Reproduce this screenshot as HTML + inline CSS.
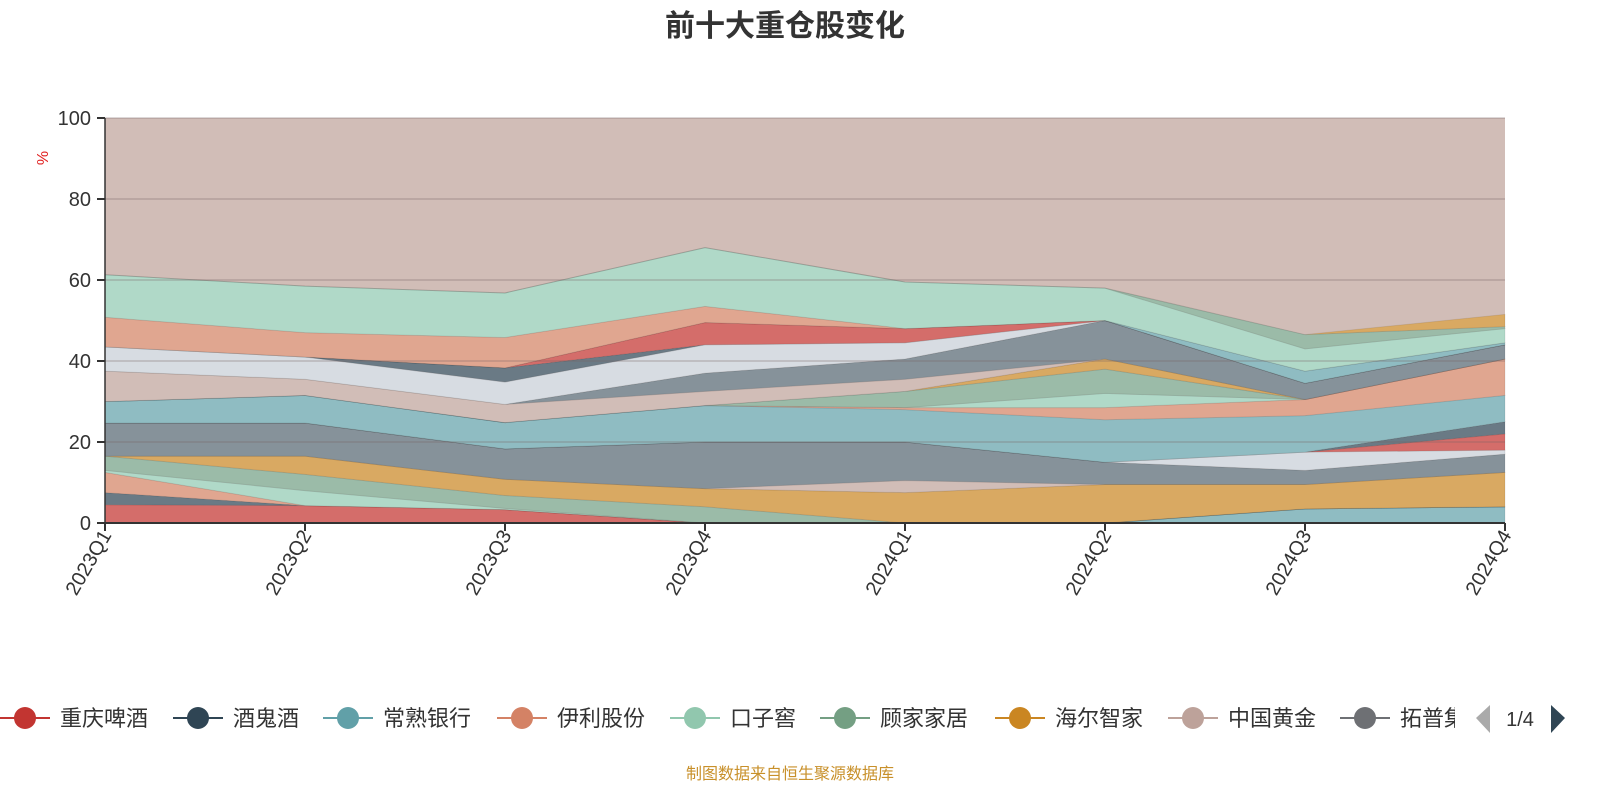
<!DOCTYPE html>
<html><head><meta charset="utf-8"><style>
body{margin:0;background:#fff;width:1600px;height:800px;overflow:hidden;font-family:"Liberation Sans","Noto Sans CJK SC",sans-serif}
</style></head><body>
<svg id="chart" width="1600" height="800" xmlns="http://www.w3.org/2000/svg" font-family="Liberation Sans, Noto Sans CJK SC, sans-serif">
<text x="785" y="36" text-anchor="middle" font-size="30" font-weight="bold" fill="#333">前十大重仓股变化</text>
<g id="plot"></g>
<g id="axes"></g>
<g id="legend"></g>
<text x="790" y="779" text-anchor="middle" font-size="16" fill="#c8902a">制图数据来自恒生聚源数据库</text>
</svg>
<script>
const categories=["2023Q1","2023Q2","2023Q3","2023Q4","2024Q1","2024Q2","2024Q3","2024Q4"];
const yTicks=[0,20,40,60,80,100];
const layerColors=["#8fbcc2","#d46d6a","#6a7a85","#e0a690","#b0d9c8","#9bbba8","#d9a962","#d1bdb7","#86929a","#d7dce2","#d46d6a","#6a7a85","#8fbcc2","#e0a690","#b0d9c8","#9bbba8","#d9a962","#d1bdb7","#86929a","#d7dce2","#6a7a85","#d46d6a","#8fbcc2","#e0a690","#b0d9c8","#9bbba8","#d9a962"];
const s1=[0,0,0,0,0,0,3.5,4];
const s2=[4.5,4.3,3.3,0,0,0,0,0];
const s3=[3,0,0,0,0,0,0,0];
const s4=[5,0,0,0,0,0,0,0];
const s5=[0.5,3.7,0.3,0,0,0,0,0];
const s6=[3.5,4,3.2,4,0,0,0,0];
const s7=[0,4.5,4,4.5,7.5,9.5,6,8.5];
const s8=[0,0,0,0,3,0,0,0];
const s9=[8.2,8.2,7.5,11.5,9.5,5.5,3.5,4.5];
const s10=[0,0,0,0,0,0,4.5,1];
const s11=[0,0,0,0,0,0,0,4];
const s12=[0,0,0,0,0,0,0,3];
const s13=[5.3,6.8,6.5,9,8,10.5,9,6.5];
const s14=[0,0,0,0,0.5,3,4,9];
const s15=[0,0,0,0,0,3.5,0,0];
const s16=[0,0,0,0,4,6,0,0];
const s17=[0,0,0,0,0,2.5,0,0];
const s18=[7.5,4,4.5,3.5,3,0,0,0];
const s19=[0,0,0,4.5,5,9.5,4,3.5];
const s20=[6,5.5,5.5,7,4,0,0,0];
const s21=[0,0,3.5,0,0,0,0,0];
const s22=[0,0,0,5.5,3.5,0,0,0];
const s23=[0,0,0,0,0,0,3,0.5];
const s24=[7.3,6,7.5,4,0,0,0,0];
const s25=[10.5,11.5,11,14.5,11.5,8,5.5,3.5];
const s26=[0,0,0,0,0,0,3.5,0.5];
const s27=[0,0,0,0,0,0,0,3];
const series=[s1,s2,s3,s4,s5,s6,s7,s8,s9,s10,s11,s12,s13,s14,s15,s16,s17,s18,s19,s20,s21,s22,s23,s24,s25,s26,s27];
const legendNames=["重庆啤酒","酒鬼酒","常熟银行","伊利股份","口子窖","顾家家居","海尔智家","中国黄金","拓普集团"];
const legendColors=["#c23531","#2f4554","#61a0a8","#d48265","#91c7ae","#749f83","#ca8622","#bda29a","#6e7074"];

const NS="http://www.w3.org/2000/svg";
const X0=105,X1=1505,Y0=523,Y1=118;
const xs=i=>X0+i*(X1-X0)/(categories.length-1);
const ys=v=>Y0-(v/100)*(Y0-Y1);
function mk(tag,attrs,parent){const e=document.createElementNS(NS,tag);for(const k in attrs)e.setAttribute(k,attrs[k]);parent.appendChild(e);return e;}
const plot=document.getElementById('plot'),axes=document.getElementById('axes'),legend=document.getElementById('legend');
const topRect=mk('rect',{x:X0,y:Y1,width:X1-X0,height:Y0-Y1,fill:"#d1bdb7"},plot);


let base=categories.map(()=>0);
series.forEach((s,k)=>{
  const upper=base.map((b,i)=>b+s[i]);
  let d="";
  upper.forEach((v,i)=>{d+=(i?"L":"M")+xs(i)+","+ys(v);});
  for(let i=base.length-1;i>=0;i--)d+="L"+xs(i)+","+ys(base[i]);
  const p=mk('path',{d:d+"Z",fill:layerColors[k],stroke:"rgba(0,0,0,0.08)","stroke-width":1},plot);
  
  
  base=upper;
});
yTicks.forEach(t=>{
  if(t>0){const g=mk('line',{x1:X0,x2:X1,y1:ys(t),y2:ys(t),stroke:"rgba(120,100,100,0.25)","stroke-width":2},axes);
  
  }
  const tk=mk('line',{x1:X0-8,x2:X0,y1:ys(t),y2:ys(t),stroke:"#333","stroke-width":2},axes);
  
  
  const tx=mk('text',{x:X0-14,y:ys(t)+7,"text-anchor":"end","font-size":20,fill:"#333"},axes);
  tx.textContent=t;
  
  
});
const ya=mk('line',{x1:X0,x2:X0,y1:Y1,y2:Y0,stroke:"#333","stroke-width":1.5},axes);


const xa=mk('line',{x1:X0,x2:X1,y1:Y0,y2:Y0,stroke:"#333","stroke-width":2},axes);


const yt=mk('text',{x:0,y:0,"font-size":16,fill:"#e02020","text-anchor":"middle",transform:"translate(48,158) rotate(-90)"},axes);
yt.textContent="%";


categories.forEach((c,i)=>{
  const tk=mk('line',{x1:xs(i),x2:xs(i),y1:Y0,y2:Y0+8,stroke:"#333","stroke-width":2},axes);
  
  
  const t=mk('text',{x:0,y:0,"text-anchor":"end","font-size":20,fill:"#333",transform:`translate(${xs(i)+7},${Y0+12}) rotate(-60)`},axes);
  t.textContent=c;
  
  
});
const lx=[0,173,323,497,670,820,995,1168,1340];
const clip=mk('clipPath',{id:"lc"},legend);mk('rect',{x:0,y:690,width:1455,height:60},clip);
const lg=mk('g',{"clip-path":"url(#lc)"},legend);
legendNames.forEach((n,i)=>{
  const g=mk('g',{},lg);
  
  
  mk('line',{x1:lx[i],x2:lx[i]+50,y1:718,y2:718,stroke:legendColors[i],"stroke-width":2},g);
  mk('circle',{cx:lx[i]+25,cy:718,r:11,fill:legendColors[i]},g);
  const t=mk('text',{x:lx[i]+60,y:726,"font-size":22,fill:"#333"},g);
  t.textContent=n;
});
const pl=mk('path',{d:"M1490,705 L1476,718 L1490,733 Z",fill:"#aaa"},legend);


const pt=mk('text',{x:1520,y:726,"text-anchor":"middle","font-size":20,fill:"#333"},legend);
pt.textContent="1/4";


const pr=mk('path',{d:"M1551,705 L1565,718 L1551,733 Z",fill:"#2f4554"},legend);


</script>
</body></html>
